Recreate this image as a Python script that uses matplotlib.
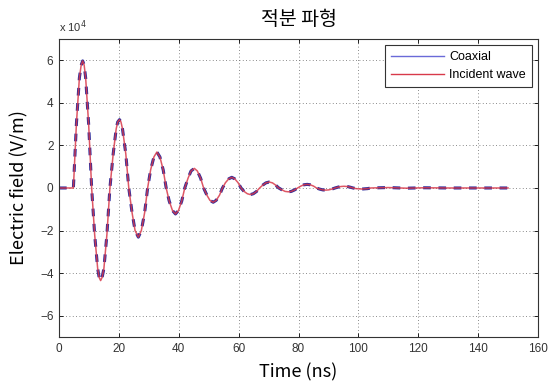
import numpy as np
import matplotlib
matplotlib.use("Agg")
import matplotlib.pyplot as plt
from matplotlib.lines import Line2D

# time (ns) and field (x 1e4 V/m)
time_ns = [0.0, 4.8,
           5.8, 6.8, 7.4, 7.9, 8.4, 8.9, 9.9,
           10.9, 11.9, 12.9, 13.4, 13.9, 14.4, 15.0, 16.0,
           17.0, 18.1, 19.1, 19.6, 20.2, 20.7, 21.2, 22.3,
           23.3, 24.4, 25.4, 26.5, 27.5, 28.6,
           29.6, 30.6, 31.7, 32.7, 33.7, 34.8,
           35.8, 36.8, 37.9, 38.9, 39.9, 41.0,
           42.0, 43.1, 44.1, 45.2, 46.2, 47.3,
           48.3, 49.4, 50.4, 51.5, 52.5, 53.6,
           54.6, 55.6, 56.7, 57.7, 58.7, 59.8,
           60.8, 61.8, 62.9, 63.9, 64.9, 66.0,
           67.0, 68.1, 69.1, 70.2, 71.3, 72.3,
           73.4, 74.5, 75.5, 76.6, 77.6, 78.7,
           79.7, 80.8, 81.8, 82.9, 83.9, 85.0,
           86.0, 87.0, 88.1, 89.1, 90.1, 91.2,
           92.2, 93.2, 94.2, 95.2, 96.2, 97.2,
           98.2, 99.2, 100.2, 101.2, 102.1, 103.1,
           104.1, 110.0, 116.0, 122.0, 130.0, 140.0, 150.0]

field_e4 = [0.0, 0.0,
            2.99, 5.17, 5.77, 5.97, 5.77, 5.17, 2.99,
            0.0, -2.18, -3.77, -4.20, -4.35, -4.20, -3.77, -2.18,
            0.0, 1.61, 2.78, 3.10, 3.21, 3.10, 2.78, 1.61,
            0.0, -1.16, -2.00, -2.31, -2.00, -1.16,
            0.0, 0.85, 1.46, 1.69, 1.46, 0.85,
            0.0, -0.61, -1.06, -1.22, -1.06, -0.61,
            0.0, 0.46, 0.80, 0.92, 0.80, 0.46,
            0.0, -0.34, -0.58, -0.67, -0.58, -0.34,
            0.0, 0.25, 0.43, 0.50, 0.43, 0.25,
            0.0, -0.16, -0.27, -0.31, -0.27, -0.16,
            0.0, 0.14, 0.24, 0.28, 0.24, 0.14,
            0.0, -0.09, -0.16, -0.18, -0.16, -0.09,
            0.0, 0.09, 0.15, 0.17, 0.15, 0.09,
            0.0, -0.05, -0.09, -0.10, -0.09, -0.05,
            0.0, 0.04, 0.07, 0.08, 0.07, 0.04,
            0.0, -0.03, -0.04, -0.05, -0.04, -0.03,
            0.0, 0.02, -0.01, 0.01, 0.0, 0.0, 0.0]

x_ticks = [0, 20, 40, 60, 80, 100, 120, 140, 160]
y_ticks = [-6, -4, -2, 0, 2, 4, 6]

t = np.array(time_ns)
e = np.array(field_e4)

fig = plt.figure(figsize=(5.49, 3.86), dpi=100)
ax = fig.add_axes([0.1075, 0.127, 0.8725, 0.772])

# coaxial (dashed, underneath) and incident wave (solid red on top)
ax.plot(t, e, color="#2b2b9c", linewidth=2.2, linestyle=(0, (2.5, 2.5)))
ax.plot(t, e, color="#d8394a", linewidth=1.1, alpha=0.85)

ax.set_xlim(0, 160)
ax.set_ylim(-7, 7)
ax.set_xticks(x_ticks)
ax.set_yticks(y_ticks)
ax.tick_params(direction="in", top=True, right=True, length=3, width=0.6,
               labelsize=8.5, labelcolor="#333333", pad=4)
for lbl in ax.get_xticklabels() + ax.get_yticklabels():
    lbl.set_family("Liberation Sans")
for s in ax.spines.values():
    s.set_linewidth(0.8)
    s.set_color("#333333")

ax.grid(True, linestyle=(0, (1, 3)), color="#666666", linewidth=0.6)

ax.text(0.0, 1.012, "x 10$^4$", transform=ax.transAxes, fontsize=8,
        color="#333333", family="Liberation Sans", ha="left", va="bottom")

ax.set_title("적분 파형", fontsize=14, family=["Noto Sans CJK KR", "DejaVu Sans"], pad=10)
ax.set_xlabel("Time (ns)", fontsize=13, family="Noto Sans CJK KR", labelpad=6)
ax.set_ylabel("Electric field (V/m)", fontsize=13, family="Noto Sans CJK KR", labelpad=8)

handles = [Line2D([], [], color="#6a6ad8", linewidth=1.0),
           Line2D([], [], color="#d8394a", linewidth=1.0)]
leg = ax.legend(handles, ["Coaxial", "Incident wave"], loc="upper right",
                prop={"family": "Liberation Sans", "size": 9}, fancybox=False,
                edgecolor="#333333", framealpha=1, handlelength=4.2,
                borderaxespad=0.5, labelspacing=0.45, handletextpad=0.4,
                borderpad=0.5)
leg.get_frame().set_linewidth(0.8)

fig.savefig("out.png", dpi=100)
